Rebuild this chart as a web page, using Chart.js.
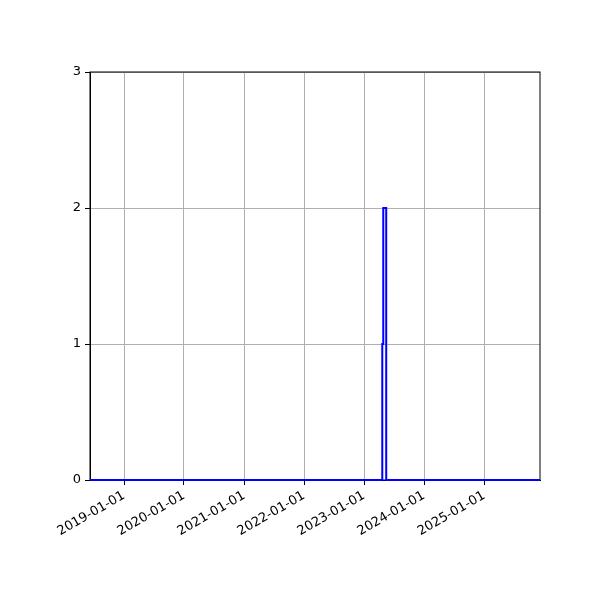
<!DOCTYPE html>
<html>
<head>
<meta charset="utf-8">
<script src="https://cdn.jsdelivr.net/npm/chart.js@4/dist/chart.umd.min.js"></script>
<style>
  html, body { margin: 0; padding: 0; background: #fff; }
</style>
</head>
<body>
<canvas id="chart" width="600" height="600"></canvas>
<script>
// step series: count per date (held until next date)
const dates = ['2018-06-08', '2023-04-22', '2023-04-28', '2023-05-16', '2025-12-07'];
const counts = [0, 1, 2, 0, 0];
const tickYears = [2019, 2020, 2021, 2022, 2023, 2024, 2025];
const yTicks = [0, 1, 2, 3];

const toMs = s => Date.parse(s + 'T00:00:00Z');
const pad = n => String(n).padStart(2, '0');
const fmt = v => {
    const d = new Date(v);
    return d.getUTCFullYear() + '-' + pad(d.getUTCMonth() + 1) + '-' + pad(d.getUTCDate());
};

// box around the plot area like matplotlib, under the line
const frame = {
    id: 'frame',
    beforeDatasetsDraw(chart) {
        const a = chart.chartArea, c = chart.ctx;
        c.save();
        c.strokeStyle = '#000';
        c.lineWidth = 1;
        c.strokeRect(a.left, a.top, a.right - a.left, a.bottom - a.top);
        c.restore();
    }
};

const ctx = document.getElementById('chart').getContext('2d');
new Chart(ctx, {
    type: 'line',
    data: {
        datasets: [{
            data: dates.map((d, i) => ({ x: toMs(d), y: counts[i] })),
            borderColor: '#0000ff',
            borderWidth: 2,
            stepped: 'before',
            pointRadius: 0,
            fill: false,
            clip: 2
        }]
    },
    options: {
        responsive: false,
        animation: false,
        layout: { padding: { top: 72, right: 60, left: 0, bottom: 0 } },
        plugins: { legend: { display: false }, tooltip: { enabled: false } },
        scales: {
            x: {
                type: 'linear',
                min: toMs(dates[0]),
                max: toMs(dates[dates.length - 1]),
                afterBuildTicks: s => { s.ticks = tickYears.map(y => ({ value: Date.UTC(y, 0, 1) })); },
                afterFit: s => { s.height = 120; },
                grid: { color: '#b0b0b0', tickColor: '#000', tickLength: 5 },
                border: { color: '#000' },
                ticks: {
                    color: '#000',
                    font: { family: 'DejaVu Sans', size: 13 },
                    minRotation: 30, maxRotation: 30,
                    autoSkip: false,
                    callback: v => fmt(v)
                }
            },
            y: {
                min: 0, max: 3,
                afterBuildTicks: s => { s.ticks = yTicks.map(v => ({ value: v })); },
                afterFit: s => { s.width = 90; },
                grid: { color: '#b0b0b0', tickColor: '#000', tickLength: 5 },
                border: { color: '#000' },
                ticks: {
                    color: '#000',
                    font: { family: 'DejaVu Sans', size: 13 },
                    padding: 4
                }
            }
        }
    },
    plugins: [frame]
});
</script>
</body>
</html>
